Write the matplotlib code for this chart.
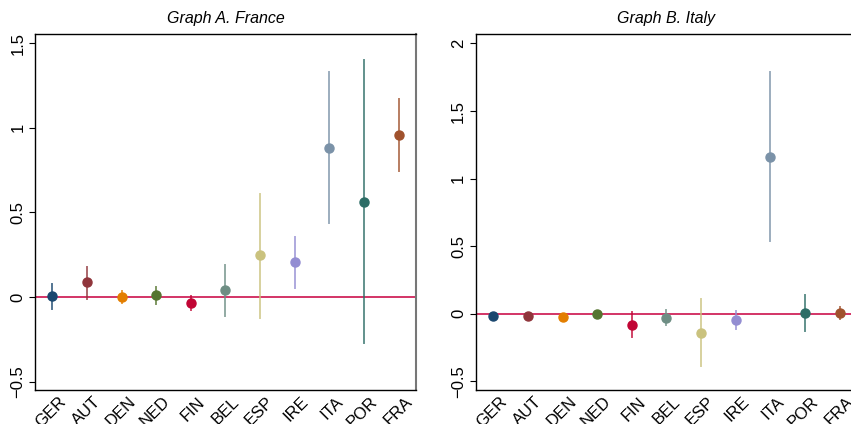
import numpy as np
import matplotlib.pyplot as plt
from matplotlib.transforms import ScaledTranslation

plt.rcParams['font.family'] = ['Liberation Sans', 'DejaVu Sans']

# Countries and colours
countries = ['GER', 'AUT', 'DEN', 'NED', 'FIN', 'BEL', 'ESP', 'IRE', 'ITA', 'POR', 'FRA']
colors = ['#1a476f', '#90353b', '#e37e00', '#55752f', '#c10534', '#6e8e84',
          '#cac27e', '#938dd2', '#7b92a8', '#2d6d66', '#a0522d']

# Graph A. France: point estimates and confidence bounds
fr_est = [0.005, 0.087, 0.0, 0.01, -0.034, 0.04, 0.247, 0.205, 0.883, 0.564, 0.96]
fr_lo = [-0.07, -0.01, -0.034, -0.04, -0.079, -0.11, -0.124, 0.055, 0.44, -0.27, 0.747]
fr_hi = [0.075, 0.18, 0.034, 0.06, 0.006, 0.19, 0.61, 0.355, 1.33, 1.40, 1.173]

# Graph B. Italy
it_est = [-0.017, -0.017, -0.022, 0.0, -0.081, -0.03, -0.14, -0.049, 1.163, 0.005, 0.007]
it_lo = [-0.035, -0.03, -0.035, -0.012, -0.17, -0.084, -0.39, -0.116, 0.537, -0.128, -0.04]
it_hi = [0.0, -0.005, -0.01, 0.012, 0.01, 0.024, 0.106, 0.02, 1.79, 0.138, 0.05]

fig = plt.figure(figsize=(8.51, 4.24), dpi=100)
ax1 = fig.add_axes([0.0411, 0.0802, 0.4477, 0.8396])
ax2 = fig.add_axes([0.5593, 0.0802, 0.4477, 0.8396])


def draw(ax, est, lo, hi, title, ylim, yticks, ylabels):
    x = np.arange(1, len(countries) + 1)
    ax.axhline(0, color='#d0245a', lw=1.3, zorder=1)
    for i in range(len(countries)):
        ax.plot([x[i], x[i]], [lo[i], hi[i]], color=colors[i], lw=1.4,
                alpha=0.75, zorder=2)
        ax.plot(x[i], est[i], 'o', color=colors[i], ms=6.5, zorder=3)
    ax.set_xlim(0.5, 11.5)
    ax.set_ylim(*ylim)
    ax.set_xticks(x)
    ax.set_xticklabels(countries, rotation=45, ha='right', rotation_mode='anchor',
                       fontsize=12)
    ax.tick_params(axis='x', length=0, pad=3)
    # nudge labels a bit to the right, as in the original
    shift = ScaledTranslation(6 / 100, 0, fig.dpi_scale_trans)
    for lab in ax.get_xticklabels():
        lab.set_transform(lab.get_transform() + shift)
    ax.set_yticks(yticks)
    ax.set_yticklabels(ylabels, rotation=90, va='center', fontsize=12)
    ax.tick_params(axis='y', length=4, width=0.8, direction='out', pad=3)
    ax.set_title(title, style='italic', fontsize=11.5, pad=8)
    for s in ['left', 'bottom', 'top']:
        ax.spines[s].set_linewidth(1.0)
        ax.spines[s].set_color('black')
    ax.spines['right'].set_color('#777777')
    ax.spines['right'].set_linewidth(1.5)


draw(ax1, fr_est, fr_lo, fr_hi, 'Graph A. France', (-0.55, 1.555),
     [-0.5, 0, 0.5, 1, 1.5], ['\u22120.5', '0', '0.5', '1', '1.5'])
draw(ax2, it_est, it_lo, it_hi, 'Graph B. Italy', (-0.565, 2.07),
     [-0.5, 0, 0.5, 1, 1.5, 2], ['\u22120.5', '0', '0.5', '1', '1.5', '2'])

fig.savefig('out.png', dpi=100)
